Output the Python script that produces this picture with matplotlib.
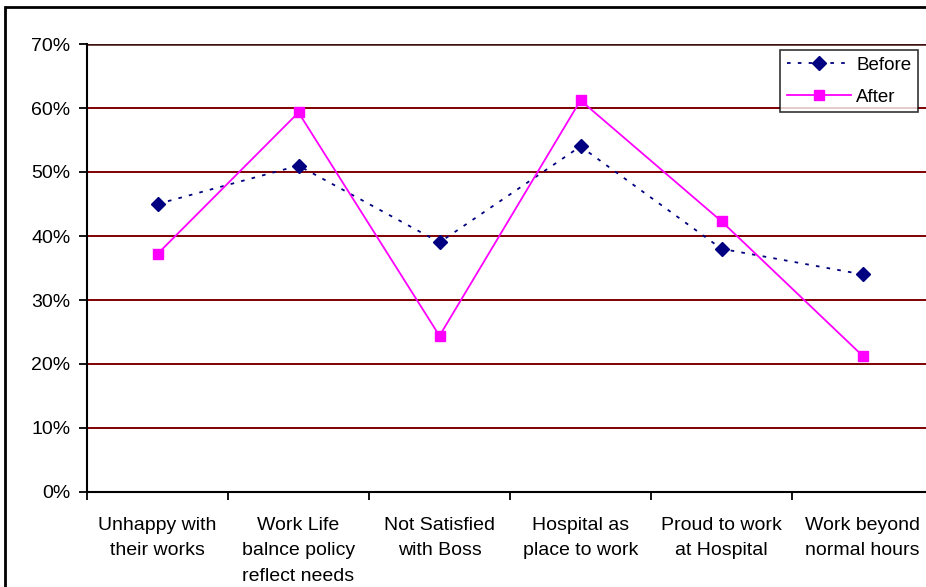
import matplotlib.pyplot as plt
from matplotlib.patches import Rectangle
from matplotlib.ticker import FixedLocator, PercentFormatter

plt.rcParams['font.family'] = ['Liberation Sans', 'DejaVu Sans']

categories = ['Unhappy with\ntheir works', 'Work Life\nbalnce policy\nreflect needs',
              'Not Satisfied\nwith Boss', 'Hospital as\nplace to work',
              'Proud to work\nat Hospital', 'Work beyond\nnormal hours']
before = [45, 51, 39, 54, 38, 34]
after = [37.2, 59.3, 24.4, 61.2, 42.3, 21.3]
yticks = [0, 10, 20, 30, 40, 50, 60, 70]

fig = plt.figure(figsize=(9.26, 5.87), dpi=100)
ax = fig.add_axes([87 / 926, 95 / 587, 846 / 926, 448 / 587])

x = list(range(len(categories)))

# gridlines first so lines sit on top
for v in yticks[1:]:
    ax.axhline(v, color='#800000', lw=1.4, zorder=1)
ax.axhline(70, color='#401010', lw=1.8, zorder=1)

ax.plot(x, before, color='#000080', lw=1.3, ls=(0, (2, 4)), marker='D',
        ms=7.5, label='Before', zorder=3)
ax.plot(x, after, color='#ff00ff', lw=1.3, marker='s', ms=7,
        label='After', zorder=3)

ax.set_xlim(-0.5, len(categories) - 0.5)
ax.set_ylim(0, 70)
ax.yaxis.set_major_locator(FixedLocator(yticks))
ax.yaxis.set_major_formatter(PercentFormatter(decimals=0))
ax.set_xticks(x)
ax.set_xticklabels(categories, fontsize=14, linespacing=1.65)
ax.xaxis.set_minor_locator(FixedLocator([i - 0.5 for i in range(len(categories) + 1)]))
ax.tick_params(axis='x', which='major', length=0, pad=18)
ax.tick_params(axis='x', which='minor', length=6, width=1.3, direction='out')
ax.tick_params(axis='y', length=6, width=1.3, direction='out', labelsize=14, pad=6)

for s in ['top', 'right']:
    ax.spines[s].set_visible(False)
for s in ['left', 'bottom']:
    ax.spines[s].set_linewidth(1.5)
    ax.spines[s].set_zorder(4)

leg = ax.legend(loc='upper right', bbox_to_anchor=(918 / 926, 1 - 50 / 587),
                bbox_transform=fig.transFigure, fontsize=13.5, fancybox=False,
                frameon=True, edgecolor='black', handlelength=3.4,
                borderpad=0.35, labelspacing=0.8, handletextpad=0.3,
                borderaxespad=0)
leg.get_frame().set_linewidth(1.2)

# outer chart border
fig.patches.append(Rectangle((5 / 926, -0.1), 1.2, 1.1 - 7 / 587,
                             transform=fig.transFigure, fill=False,
                             edgecolor='black', lw=2, clip_on=False))

fig.savefig('out.png', dpi=100)
